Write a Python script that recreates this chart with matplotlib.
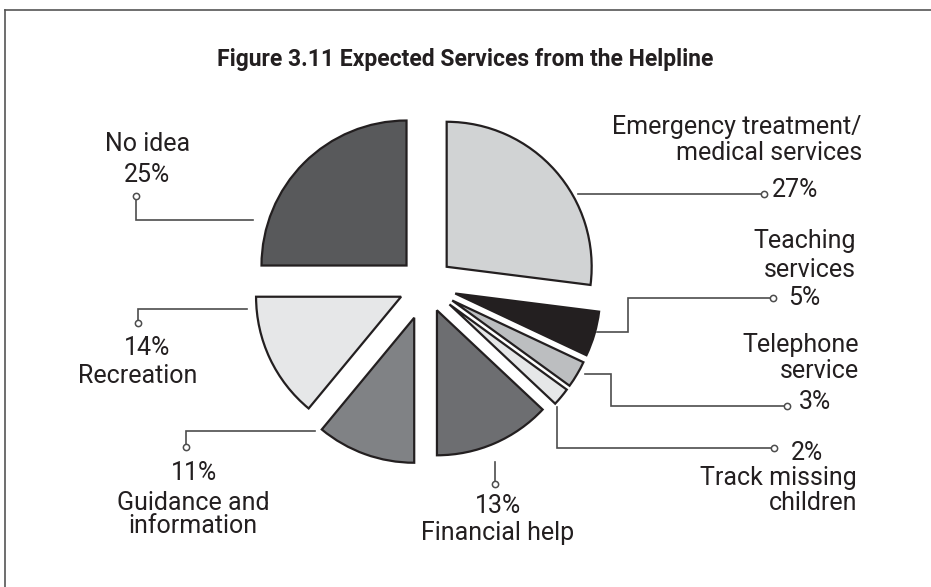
import matplotlib
matplotlib.use('Agg')
import matplotlib.pyplot as plt
from matplotlib.lines import Line2D

plt.rcParams['font.family'] = ['Roboto', 'DejaVu Sans']

# data, clockwise from 12 o'clock
services = ['Emergency treatment/\nmedical services', 'Teaching\nservices',
            'Telephone\nservice', 'Track missing\nchildren', 'Financial help',
            'Guidance and\ninformation', 'Recreation', 'No idea']
shares = [27, 5, 3, 2, 13, 11, 14, 25]
fills = ['#d1d3d4', '#231f20', '#bcbec0', '#e6e7e8', '#6d6e71',
         '#808285', '#e6e7e8', '#58595b']
explode = [0.19, 0.21, 0.21, 0.21, 0.19, 0.24, 0.19, 0.19]

W, H = 931, 587
R = 145
fig = plt.figure(figsize=(W / 100, H / 100), dpi=100)
ax = fig.add_axes([0, 0, 1, 1])

# pie's explode is in data units, so scale by the radius
ax.pie(shares, colors=fills, explode=[e * R for e in explode], startangle=-90,
       counterclock=True, center=(426, 285), radius=R, frame=True,
       wedgeprops=dict(edgecolor='#231f20', linewidth=1.6, joinstyle='miter'))
# pixel coords, y down
ax.set_xlim(0, W)
ax.set_ylim(H, 0)
ax.axis('off')

fig.text(0.5, 1 - 66 / H, 'Figure 3.11 Expected Services from the Helpline',
         ha='center', va='baseline', fontsize=16.5, fontweight='bold', color='#231f20')

# frame remains (top and left edges)
fig.add_artist(Line2D([5 / W, 1], [1 - 10 / H, 1 - 10 / H], color='#555555', lw=1.2))
fig.add_artist(Line2D([5 / W, 5 / W], [0, 1 - 10 / H], color='#555555', lw=1.2))

# leader lines: (x list, y list), circle at last point
leaders = [
    ([578, 764], [194, 194]),
    ([597, 628, 628, 773], [332, 332, 298, 298]),
    ([585, 611, 611, 787], [374, 374, 406, 406]),
    ([557, 557, 774], [407, 448, 448]),
    ([495, 495], [462, 484]),
    ([315, 186, 186], [431, 431, 447]),
    ([247, 138, 138], [309, 309, 323]),
    ([253, 136, 136], [220, 220, 196]),
]
for xs, ys in leaders:
    ax.plot(xs, ys, color='#4d4d4d', lw=1.2, solid_joinstyle='miter')
    ax.plot(xs[-1], ys[-1], 'o', ms=4.5, mfc='white', mec='#4d4d4d', mew=1.1)

# label placement: (x, baseline y of name lines, ha), (x, baseline y of pct)
name_pos = [(862, [134, 160], 'right'), (856, [248, 277], 'right'),
            (859, [352, 378], 'right'), (857, [485, 510], 'right'),
            (498, [540], 'center'), (193, [510, 533], 'center'),
            (138, [383], 'center'), (148, [151], 'center')]
pct_pos = [(772, 197, 'left'), (788, 305, 'left'), (799, 409, 'left'),
           (791, 460, 'left'), (498, 513, 'center'), (194, 480, 'center'),
           (147, 355, 'center'), (147, 182, 'center')]

tc = '#231f20'
fs = 18
for name, pct, (nx, nys, nha), (px, py, pha) in zip(services, shares, name_pos, pct_pos):
    for line, y in zip(name.split('\n'), nys):
        ax.text(nx, y, line, ha=nha, va='baseline', fontsize=fs, color=tc)
    ax.text(px, py, f'{pct}%', ha=pha, va='baseline', fontsize=fs, color=tc)

fig.savefig('out.png', dpi=100, facecolor='white')
